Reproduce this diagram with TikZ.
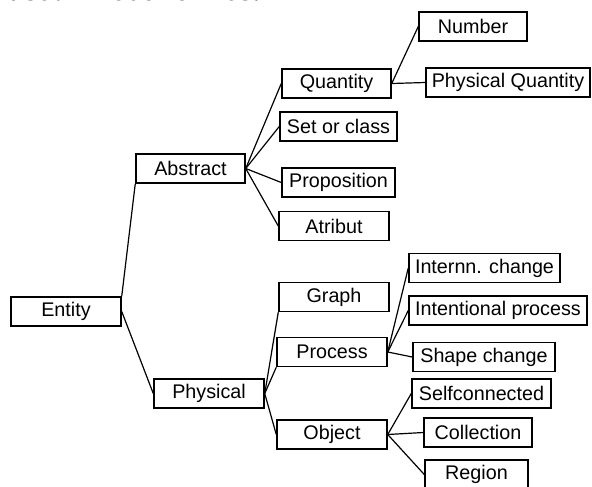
\documentclass[tikz,border=0pt]{standalone}
\usepackage{fontspec}
\setmainfont{Liberation Sans}
\newfontfamily\bookfont{Liberation Serif}
\begin{document}
\begin{tikzpicture}[x=0.75pt,y=-0.75pt,line width=0.9pt,
	box/.style={draw,line width=1.1pt,inner sep=0pt,minimum height=29*0.75pt,font=\fontsize{14.8}{17}\selectfont},
	wd/.style={minimum width=#1*0.75pt}]
		\useasboundingbox (0,0) rectangle (592,486);
		\clip (0,0) rectangle (592,486);
		% cut line of the page above
		\node[anchor=base west,inner sep=0pt,font=\bookfont\itshape\fontsize{25}{28}\selectfont] (txt) at (8,0) {used in economics.};
		% level 0 and 1
		\node[box,wd=110] (ent) at (66,311.5) {Entity};
		\node[box,wd=109] (abs) at (190.5,168.5) {Abstract};
		\node[box,wd=110] (phy) at (209,393.5) {Physical};
		% abstract branch
		\node[box,wd=109] (qty) at (336.5,83.5) {Quantity};
		\node[box,wd=117] (set) at (338.5,126.5) {Set or class};
		\node[box,wd=113] (prop) at (338.5,182.5) {Proposition};
		\node[box,wd=110] (atr) at (334,226) {Atribut};
		\node[box,wd=108] (num) at (473,26.5) {Number};
		\node[box,wd=164] (pqty) at (508,82.5) {Physical Quantity};
		% physical branch
		\node[box,wd=110] (grph) at (334,297) {Graph};
		\node[box,wd=110] (proc) at (332,352) {Process};
		\node[box,wd=110] (obj) at (332,434.5) {Object};
		\node[box,wd=151] (intc) at (484.5,268) {Internn. change};
		\node[box,wd=178] (intp) at (498,310.5) {Intentional process};
		\node[box,wd=142] (shp) at (484,357) {Shape change};
		\node[box,wd=139] (self) at (481.5,393.5) {Selfconnected};
		\node[box,wd=108] (coll) at (478,432.5) {Collection};
		\node[box,wd=103] (reg) at (476.5,474.5) {Region};
		% connectors
		\draw (ent.north east) -- (abs.south west);
		\draw (ent.east) -- (phy.west);
		\foreach \n in {qty,set,prop,atr} \draw (abs.east) -- (\n.west);
		\draw (qty.east) -- (num.west);
		\draw (qty.east) -- (pqty.west);
		\draw (phy.east) -- (grph.south west);
		\draw (phy.east) -- (proc.south west);
		\draw (phy.east) -- (obj.west);
		\foreach \n in {intc,intp,shp} \draw (proc.east) -- (\n.west);
		\foreach \n in {self,coll,reg} \draw (obj.east) -- (\n.west);
\end{tikzpicture}
\end{document}
